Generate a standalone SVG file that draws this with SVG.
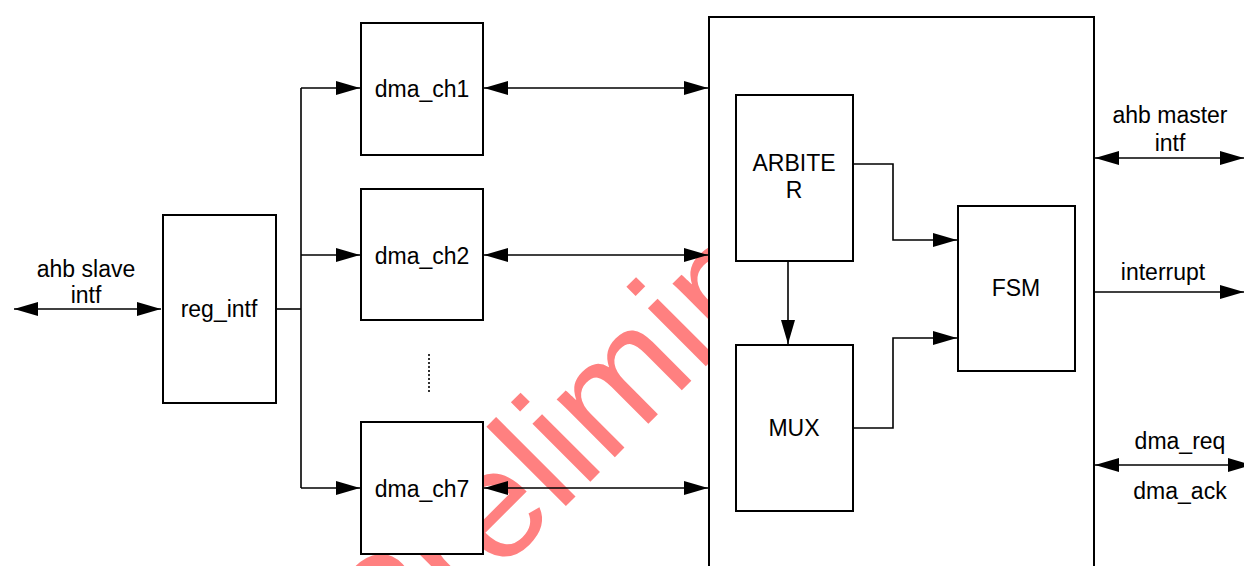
<svg xmlns="http://www.w3.org/2000/svg" width="1244" height="566" viewBox="0 0 1244 566">
<style>
.box{fill:#fff;stroke:#000;stroke-width:2}
.ln{fill:none;stroke:#000;stroke-width:1.6}
.t{font-family:"Liberation Sans",Arial,sans-serif;font-size:23px;fill:#000;text-anchor:middle}
.wm{font-family:"Liberation Sans",Arial,sans-serif;font-size:155px;fill:#ff8080}
</style>
<defs>
<marker id="ah" markerUnits="userSpaceOnUse" markerWidth="24" markerHeight="14" refX="24" refY="7" orient="auto-start-reverse">
<path d="M0,0 L24,7 L0,14 z" fill="#000"/>
</marker>
</defs>
<rect width="1244" height="566" fill="#fff"/>
<text class="wm" transform="translate(388,684) rotate(-45)">Preliminary</text>
<g id="dma_core"><rect class="box" x="709" y="17" width="385" height="570"/></g>
<g id="connectors">
<line class="ln" x1="14" y1="309" x2="161" y2="309" marker-start="url(#ah)" marker-end="url(#ah)"/>
<polyline class="ln" points="276,309 301,309"/>
<line class="ln" x1="301" y1="88" x2="301" y2="488"/>
<line class="ln" x1="301" y1="88" x2="360" y2="88" marker-end="url(#ah)"/>
<line class="ln" x1="301" y1="255" x2="360" y2="255" marker-end="url(#ah)"/>
<line class="ln" x1="301" y1="488" x2="360" y2="488" marker-end="url(#ah)"/>
<line class="ln" x1="484" y1="88" x2="708" y2="88" marker-start="url(#ah)" marker-end="url(#ah)"/>
<line class="ln" x1="484" y1="255" x2="708" y2="255" marker-start="url(#ah)" marker-end="url(#ah)"/>
<line class="ln" x1="484" y1="488" x2="708" y2="488" marker-start="url(#ah)" marker-end="url(#ah)"/>
<line x1="429" y1="354" x2="429" y2="393" stroke="#000" stroke-width="1.6" stroke-dasharray="2,2"/>
<polyline class="ln" points="854,164 893,164 893,240 957,240" marker-end="url(#ah)"/>
<polyline class="ln" points="854,428 893,428 893,338 957,338" marker-end="url(#ah)"/>
<line class="ln" x1="788" y1="262" x2="788" y2="344" marker-end="url(#ah)"/>
<line class="ln" x1="1095" y1="158" x2="1244" y2="158" marker-start="url(#ah)" marker-end="url(#ah)"/>
<line class="ln" x1="1095" y1="292" x2="1244" y2="292" marker-end="url(#ah)"/>
<line class="ln" x1="1095" y1="465" x2="1252" y2="465" marker-start="url(#ah)" marker-end="url(#ah)"/>
</g>
<g id="labels">
<text class="t" x="86" y="277">ahb slave</text>
<text class="t" x="86" y="303">intf</text>
<text class="t" x="1170" y="123">ahb master</text>
<text class="t" x="1170" y="151">intf</text>
<text class="t" x="1163" y="280">interrupt</text>
<text class="t" x="1180" y="449">dma_req</text>
<text class="t" x="1180" y="499">dma_ack</text>
</g>
<g id="reg_intf"><rect class="box" x="163" y="215" width="113" height="188"/><text class="t" x="219" y="317">reg_intf</text></g>
<g id="dma_ch1"><rect class="box" x="361" y="23" width="122" height="132"/><text class="t" x="422" y="97">dma_ch1</text></g>
<g id="dma_ch2"><rect class="box" x="361" y="189" width="122" height="131"/><text class="t" x="422" y="264">dma_ch2</text></g>
<g id="dma_ch7"><rect class="box" x="361" y="422" width="122" height="132"/><text class="t" x="422" y="497">dma_ch7</text></g>
<g id="arbiter"><rect class="box" x="736" y="95" width="117" height="166"/><text class="t" x="794" y="171">ARBITE</text><text class="t" x="794" y="198">R</text></g>
<g id="mux"><rect class="box" x="736" y="345" width="117" height="166"/><text class="t" x="794" y="436">MUX</text></g>
<g id="fsm"><rect class="box" x="958" y="206" width="117" height="165"/><text class="t" x="1016" y="296">FSM</text></g>
</svg>
